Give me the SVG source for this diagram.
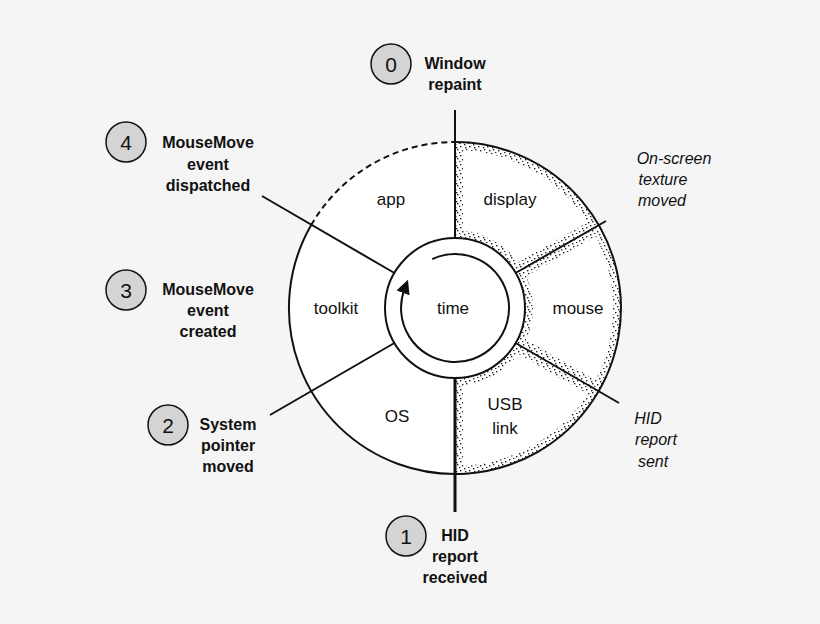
<svg xmlns="http://www.w3.org/2000/svg" width="820" height="624" viewBox="0 0 820 624">
<style>
.b{font-family:"Liberation Sans",Arial,sans-serif;font-weight:bold;font-size:16px;fill:#111;text-anchor:middle}
.i{font-family:"Liberation Sans",Arial,sans-serif;font-style:italic;font-size:16px;fill:#111;text-anchor:middle}
.s{font-family:"Liberation Sans",Arial,sans-serif;font-size:17px;fill:#111;text-anchor:middle}
.n{font-family:"Liberation Sans",Arial,sans-serif;font-size:21px;fill:#111;text-anchor:middle}
.num{fill:#d4d4d4;stroke:#111;stroke-width:1.5}
.ln{stroke:#111;stroke-width:2;fill:none}
</style>
<defs>
<pattern id="stip" width="9" height="9" patternUnits="userSpaceOnUse">
<rect x="1" y="2" width="1.4" height="1.4" fill="#222"/><rect x="5" y="0" width="1.4" height="1.4" fill="#222"/><rect x="3" y="6" width="1.4" height="1.4" fill="#222"/><rect x="7" y="5" width="1.4" height="1.4" fill="#222"/><rect x="0" y="8" width="1.4" height="1.4" fill="#222"/><rect x="6" y="3" width="1.4" height="1.4" fill="#222"/>
</pattern>
<clipPath id="cd"><path id="pd" d="M455,142 A166,166 0 0 1 598.8,225 L515.6,273 A70,70 0 0 0 455,238 Z"/></clipPath>
<clipPath id="cm"><path id="pm" d="M598.8,225 A166,166 0 0 1 598.8,391 L515.6,343 A70,70 0 0 0 515.6,273 Z"/></clipPath>
<clipPath id="cu"><path id="pu" d="M598.8,391 A166,166 0 0 1 455,474 L455,378 A70,70 0 0 0 515.6,343 Z"/></clipPath>
<marker id="ah" viewBox="0 0 10 10" refX="3" refY="5" markerWidth="7" markerHeight="7" orient="auto"><path d="M0,0 L10,5 L0,10 Z" fill="#111"/></marker>
</defs>
<rect width="820" height="624" fill="#f5f5f5"/>
<g id="wheel">
<circle cx="455" cy="308" r="166" fill="#fff"/>
<g clip-path="url(#cd)"><use href="#pd" fill="none" stroke="url(#stip)" stroke-width="16"/></g>
<g clip-path="url(#cm)"><use href="#pm" fill="none" stroke="url(#stip)" stroke-width="16"/></g>
<g clip-path="url(#cu)"><use href="#pu" fill="none" stroke="url(#stip)" stroke-width="16"/></g>
<path class="ln" d="M455,142 A166,166 0 1 1 311.2,225"/>
<path class="ln" d="M311.2,225 A166,166 0 0 1 455,142" stroke-dasharray="6 4"/>
<circle cx="455" cy="308" r="70" class="ln" fill="#fff"/>
<path d="M432.2,259.1 A54,54 0 1 1 404.5,289" class="ln" marker-end="url(#ah)"/>
</g>
<g id="connectors" class="ln">
<line x1="455" y1="110" x2="455" y2="238"/>
<line x1="455" y1="378" x2="455" y2="512" stroke-width="3"/>
<line x1="394.4" y1="273" x2="262" y2="196"/>
<line x1="394.4" y1="343" x2="270" y2="415"/>
<line x1="515.6" y1="273" x2="606" y2="221"/>
<line x1="515.6" y1="343" x2="619" y2="403"/>
</g>
<g id="sectors">
<text class="s" x="391" y="205">app</text>
<text class="s" x="510" y="205">display</text>
<text class="s" x="336" y="314">toolkit</text>
<text class="s" x="453" y="314">time</text>
<text class="s" x="578" y="314">mouse</text>
<text class="s" x="397" y="422">OS</text>
<text class="s" x="505" y="410">USB</text>
<text class="s" x="505" y="434">link</text>
</g>
<g id="n0"><circle class="num" cx="391" cy="64" r="20"/><text class="n" x="391" y="72">0</text><text class="b" x="455" y="69">Window</text><text class="b" x="455" y="90">repaint</text></g>
<g id="n4"><circle class="num" cx="126" cy="142" r="20"/><text class="n" x="126" y="150">4</text><text class="b" x="208" y="148">MouseMove</text><text class="b" x="208" y="170">event</text><text class="b" x="208" y="191">dispatched</text></g>
<g id="n3"><circle class="num" cx="126" cy="290" r="20"/><text class="n" x="126" y="298">3</text><text class="b" x="208" y="295">MouseMove</text><text class="b" x="208" y="316">event</text><text class="b" x="208" y="337">created</text></g>
<g id="n2"><circle class="num" cx="168" cy="425" r="20"/><text class="n" x="168" y="433">2</text><text class="b" x="228" y="430">System</text><text class="b" x="228" y="451">pointer</text><text class="b" x="228" y="472">moved</text></g>
<g id="n1"><circle class="num" cx="406" cy="536" r="20"/><text class="n" x="406" y="544">1</text><text class="b" x="455" y="541">HID</text><text class="b" x="455" y="562">report</text><text class="b" x="455" y="583">received</text></g>
<g id="l_screen"><text class="i" x="674" y="164">On-screen</text><text class="i" x="663" y="185">texture</text><text class="i" x="662" y="206">moved</text></g>
<g id="l_hid"><text class="i" x="648" y="424">HID</text><text class="i" x="656" y="445">report</text><text class="i" x="653" y="467">sent</text></g>
</svg>
